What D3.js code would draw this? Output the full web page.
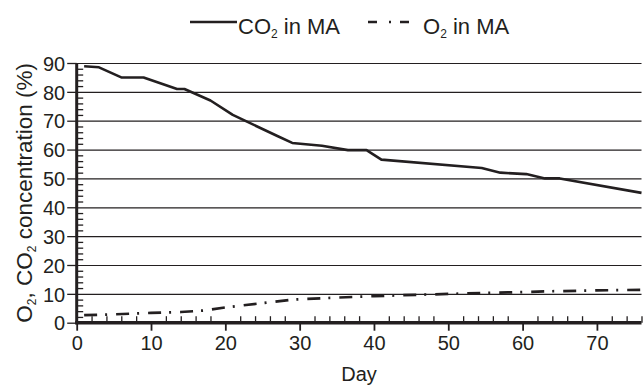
<!DOCTYPE html>
<html><head><meta charset="utf-8">
<script src="https://cdn.jsdelivr.net/npm/d3@7"></script>
<style>body{margin:0;background:#fff}svg{display:block}text{font-family:"Liberation Sans",Arial,Helvetica,sans-serif;fill:#231f20}</style>
</head><body><svg id="c" width="644" height="386"></svg>
<script>
const co2Days = [1,3,6,9,13.5,14.5,18,21,27,29,33,36.5,39,41,54.5,57,60.5,63,65,76];
const co2Vals = [88.9,88.5,85,85,81,81,77,72,64.7,62.3,61.3,59.8,59.8,56.5,53.6,52,51.5,50,50,45];
const o2Days = [1,5,10,14,17,20,25,29,35,40,46,52,58,64,70,76];
const o2Vals = [2.6,2.9,3.4,3.7,4.2,5.3,6.8,8.0,8.7,9.2,9.7,10.1,10.5,10.9,11.2,11.4];
const xTicks = [0,10,20,30,40,50,60,70];
const yTicks = [0,10,20,30,40,50,60,70,80,90];

const ink = "#231f20";
const svg = d3.select("#c");
const x = d3.scaleLinear().domain([0,76]).range([76.7,641.5]);
const y = d3.scaleLinear().domain([0,90]).range([322.7,63]);

// gridlines
svg.append("g").attr("transform",`translate(${x(0)},0)`)
  .call(d3.axisRight(y).tickValues(yTicks.slice(1)).tickSize(x(76)-x(0)).tickFormat(""))
  .call(g=>{g.select(".domain").remove();g.selectAll("line").attr("stroke",ink).attr("stroke-width",1.2);});

// y minor ticks
const yMinor = d3.range(2,90,2).filter(v=>v%10!==0);
svg.append("g").attr("transform",`translate(${x(0)},0)`)
  .call(d3.axisRight(y).tickValues(yMinor).tickSize(6.5).tickFormat(""))
  .call(g=>{g.select(".domain").remove();g.selectAll("line").attr("stroke",ink).attr("stroke-width",1.3);});

// y major ticks + labels
svg.append("g").attr("transform",`translate(${x(0)},0)`)
  .call(d3.axisLeft(y).tickValues(yTicks).tickSize(9.5).tickPadding(2))
  .call(g=>{g.select(".domain").remove();g.selectAll("line").attr("stroke",ink).attr("stroke-width",1.3);
    g.selectAll("text").attr("font-size",20).attr("font-family",null).attr("fill",ink).attr("dy","0.36em");});

// x minor ticks
const xMinor = d3.range(2,77,2).filter(v=>v%10!==0);
svg.append("g").attr("transform",`translate(0,${y(0)})`)
  .call(d3.axisTop(x).tickValues(xMinor).tickSize(6.5).tickFormat(""))
  .call(g=>{g.select(".domain").remove();g.selectAll("line").attr("stroke",ink).attr("stroke-width",1.3);});

// x major ticks + labels
svg.append("g").attr("transform",`translate(0,${y(0)})`)
  .call(d3.axisBottom(x).tickValues(xTicks).tickSize(8).tickPadding(5))
  .call(g=>{g.select(".domain").remove();g.selectAll("line").attr("stroke",ink).attr("stroke-width",1.8);
    g.selectAll("text").attr("font-size",20).attr("font-family",null).attr("fill",ink);});

// thick axis lines
svg.append("line").attr("x1",x(0)).attr("x2",x(0)).attr("y1",y(90)).attr("y2",y(0)+1.5)
  .attr("stroke",ink).attr("stroke-width",3);
svg.append("line").attr("x1",x(0)-1.5).attr("x2",x(76)).attr("y1",y(0)).attr("y2",y(0))
  .attr("stroke",ink).attr("stroke-width",3.5);

// series
const line = d3.line().x(d=>x(d[0])).y(d=>y(d[1]));
svg.append("path").datum(d3.zip(co2Days,co2Vals)).attr("d",line)
  .attr("fill","none").attr("stroke",ink).attr("stroke-width",2.6).attr("stroke-linejoin","round");
svg.append("path").datum(d3.zip(o2Days,o2Vals)).attr("d",line)
  .attr("fill","none").attr("stroke",ink).attr("stroke-width",2.7).attr("stroke-dasharray","13,8,2,9");

// axis titles
svg.append("text").attr("x",x(38)).attr("y",381).attr("text-anchor","middle").attr("font-size",20).text("Day");
const yt = svg.append("text").attr("transform",`translate(32,${(y(0)+y(90))/2}) rotate(-90)`)
  .attr("text-anchor","middle").attr("font-size",22.5);
yt.append("tspan").text("O");
yt.append("tspan").attr("font-size",12).attr("dy",4).text("2");
yt.append("tspan").attr("dy",-4).text(", CO");
yt.append("tspan").attr("font-size",12).attr("dy",4).text("2");
yt.append("tspan").attr("dy",-4).text(" concentration (%)");

// legend
const lg = svg.append("g");
lg.append("line").attr("x1",190).attr("x2",237).attr("y1",22).attr("y2",22).attr("stroke",ink).attr("stroke-width",2.6);
const t1 = lg.append("text").attr("x",238).attr("y",34).attr("font-size",22);
t1.append("tspan").text("CO");
t1.append("tspan").attr("font-size",12).attr("dy",4).text("2");
t1.append("tspan").attr("dy",-4).text(" in MA");
lg.append("line").attr("x1",368).attr("x2",409).attr("y1",22).attr("y2",22).attr("stroke",ink).attr("stroke-width",2.6)
  .attr("stroke-dasharray","9,12,2,9");
const t2 = lg.append("text").attr("x",423).attr("y",34).attr("font-size",22);
t2.append("tspan").text("O");
t2.append("tspan").attr("font-size",12).attr("dy",4).text("2");
t2.append("tspan").attr("dy",-4).text(" in MA");
</script></body></html>
